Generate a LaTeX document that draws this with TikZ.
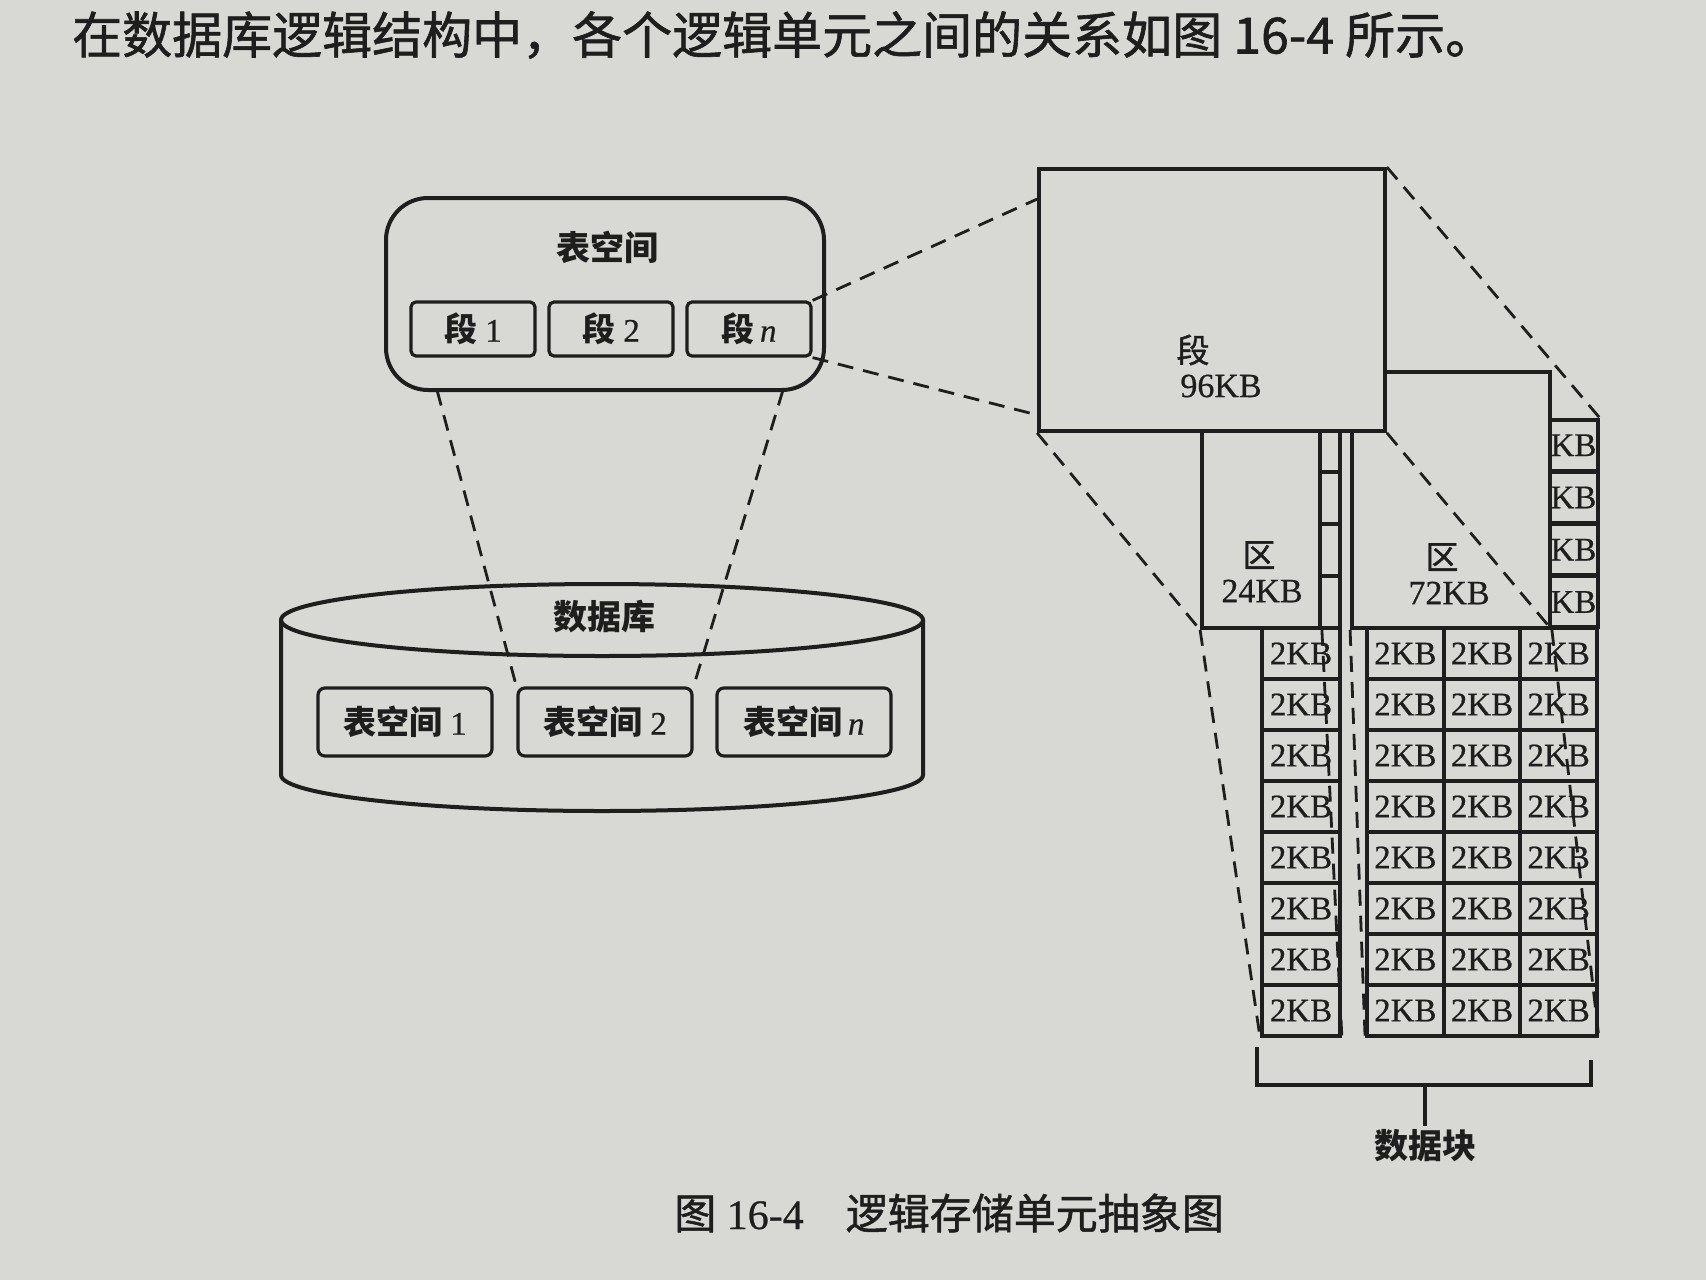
\documentclass[tikz,border=0pt]{standalone}
\usepackage{fontspec}
\setmainfont{Liberation Serif}[FakeBold=0.6]
\newfontfamily\cjk{Noto Sans CJK SC}
\newfontfamily\cjkt{Noto Sans CJK SC}[FakeBold=1.2]
\usetikzlibrary{calc}
\definecolor{paper}{RGB}{216,216,212}
\definecolor{ink}{RGB}{30,30,30}
\begin{document}
\begin{tikzpicture}[x=1pt,y=-1pt,color=ink,
  box/.style={draw, line width=3.8pt, fill=paper, inner sep=0pt},
  cell/.style={box, minimum width=78pt, minimum height=51pt, font=\fontsize{33pt}{36pt}\selectfont},
  rcell/.style={box, minimum width=76.67pt, minimum height=51pt, font=\fontsize{33pt}{36pt}\selectfont},
  kbtext/.style={inner sep=0pt, font=\fontsize{33pt}{36pt}\selectfont},
  dline/.style={line width=2.8pt, dash pattern=on 16pt off 10pt},
  lab/.style={font=\cjk\bfseries\fontsize{34pt}{38pt}\selectfont},
  rlab/.style={font=\cjkt\fontsize{33pt}{36pt}\selectfont},
  num/.style={font=\fontsize{34pt}{38pt}\selectfont},
  segbox/.style={box, line width=3.2pt, rounded corners=5pt, minimum width=124pt, minimum height=54pt, font=\fontsize{33pt}{36pt}\selectfont},
  tspbox/.style={box, line width=3.2pt, rounded corners=7pt, minimum width=174pt, minimum height=68pt, font=\fontsize{33pt}{36pt}\selectfont},
]
\fill[paper] (0,0) rectangle (1706,1280);
\useasboundingbox (0,0) rectangle (1706,1280);

% title line
\node[anchor=west, inner sep=0pt, font=\cjkt\fontsize{50pt}{56pt}\selectfont] (title) at (72,35)
  {在数据库逻辑结构中，各个逻辑单元之间的关系如图 16-4 所示。};

% tablespace box
\node[box, line width=4pt, rounded corners=42pt, minimum width=438pt, minimum height=192pt] (ts) at (605,294) {};
\node[lab] (tstitle) at (607,247) {表空间};
\node[segbox] (seg1) at (473,329) {{\cjk\bfseries 段} 1};
\node[segbox] (seg2) at (611,329) {{\cjk\bfseries 段} 2};
\node[segbox] (segn) at (749,329) {{\cjk\bfseries 段}\,\textit{n}};

% database cylinder
\draw[line width=4pt] (281,620) -- (281,775) arc[start angle=180, end angle=360, x radius=321pt, y radius=36pt] -- (923,620);
\draw[line width=4pt] (602,620) ellipse [x radius=321pt, y radius=36pt];
\node[lab] (dbl) at (604,617) {数据库};
\node[tspbox] (tsp1) at (405,722) {{\cjk\bfseries 表空间} 1};
\node[tspbox] (tsp2) at (605,722) {{\cjk\bfseries 表空间} 2};
\node[tspbox] (tspn) at (804,722) {{\cjk\bfseries 表空间}\,\textit{n}};

\coordinate (tsL) at (437,390);
\coordinate (tsR) at (783,390);
\draw[dline] (tsL) -- (tsp2.north west);
\draw[dline] (tsR) -- (tsp2.north east);

% right part: hidden KB column of the 72KB extent
\foreach \i in {1,...,4}{
  \node[rcell] (K\i) at (1559.33,{419+52.25*(\i-0.5)}) {};
  \node[kbtext, anchor=east] (Kt\i) at ($(K\i.east)+(-3,0)$) {2KB};
}
% 72KB extent
\node[box, minimum width=198pt, minimum height=256pt] (ext72) at (1451,500) {};
\node[rlab] (q72) at (1442,557) {区};
\node[num] (v72) at (1449,593) {72KB};

% strip of the 24KB extent
\foreach \i in {1,...,4}{
  \node[box, minimum width=78pt, minimum height=52pt] (S\i) at (1301,{420+52*(\i-0.5)}) {};
}
% 24KB extent
\node[box, minimum width=118pt, minimum height=197pt] (ext24) at (1261,529.5) {};
\node[rlab] (q24) at (1259,555) {区};
\node[num] (v24) at (1262,591) {24KB};

% segment
\node[box, minimum width=346pt, minimum height=262pt] (bigseg) at (1212,300) {};
\node[rlab] (qseg) at (1193,350) {段};
\node[num] (vseg) at (1221,386) {96KB};

% data blocks
\foreach \i in {1,...,8}{
  \node[cell] (L\i) at (1301,{628+51*(\i-0.5)}) {2KB};
  \foreach \j in {1,2,3}{
    \node[rcell] (R\i\j) at ({1367+76.67*(\j-0.5)},{628+51*(\i-0.5)}) {2KB};
  }
}

% dashed connectors
\coordinate (bsT) at ($(bigseg.north west)+(0,32)$);
\coordinate (bsB) at ($(bigseg.south west)+(0,-18)$);
\draw[dline] (segn.north east) -- (bsT);
\draw[dline] (segn.south east) -- (bsB);
\draw[dline] (bigseg.south west) -- (ext24.south west);
\draw[dline] (bigseg.north east) -- (K1.north east);
\draw[dline] (bigseg.south east) -- (ext72.south east);
\draw[dline] (ext24.south west) -- (L8.south west);
\draw[dline] (ext24.south east) -- (L8.south east);
\draw[dline] (ext72.south west) -- (R81.south west);
\draw[dline] (ext72.south east) -- (R83.south east);

% bracket
\coordinate (brA) at (1257,1047);
\coordinate (brB) at (1257,1085);
\coordinate (brC) at (1591,1085);
\coordinate (brD) at (1591,1060);
\coordinate (brM) at (1425,1085);
\draw[line width=3.5pt] (brA) -- (brB) -- (brC) -- (brD);
\node[lab] (blk) at (1425,1146) {数据块};
\draw[line width=3.5pt] (brM) -- (blk.north);

% caption
\node[inner sep=0pt, font=\fontsize{42pt}{46pt}\selectfont] (caption) at (949,1213)
  {{\cjkt 图} 16-4\quad{\cjkt 逻辑存储单元抽象图}};
\end{tikzpicture}
\end{document}
